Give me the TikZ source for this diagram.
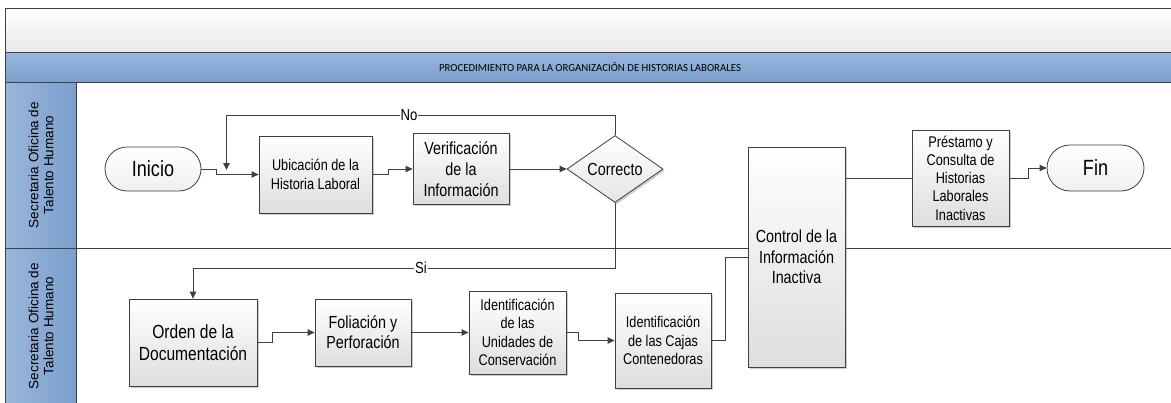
\documentclass[tikz,border=0pt]{standalone}
\usepackage{fontspec}
\setmainfont{Liberation Sans}
\newfontfamily\narrowfont[FakeStretch=0.82]{Liberation Sans}
\newfontfamily\hdrfont{Carlito}
\usetikzlibrary{shapes.geometric,shapes.misc,shadows,arrows.meta}
\definecolor{linec}{HTML}{404040}
\definecolor{bluetop}{HTML}{9AB7DC}
\definecolor{bluebot}{HTML}{7B9ECC}
\newcommand\boxfont[2]{\narrowfont\fontsize{#1}{#2}\selectfont}
\begin{document}
\begin{tikzpicture}[x=1pt,y=-1pt,
  box/.style={draw=linec, line width=0.8pt, top color=white, bottom color=black!13,
    drop shadow={shadow xshift=1.8pt,shadow yshift=-1.8pt,fill=black!40},
    inner sep=0pt, align=center},
  pill/.style={rounded rectangle, draw=linec, line width=0.8pt, top color=white, bottom color=black!6,
    inner sep=0pt, align=center},
  dia/.style={diamond, aspect=1.45, draw=linec, line width=0.8pt, top color=white, bottom color=black!10,
    drop shadow={shadow xshift=1.8pt,shadow yshift=-1.8pt,fill=black!40},
    inner sep=0pt, align=center},
  flow/.style={draw=linec, line width=0.9pt, -{Triangle[length=7pt,width=6.5pt]}},
  plain/.style={draw=linec, line width=0.9pt},
  lbl/.style={fill=white, inner sep=1pt, font={\boxfont{16}{18}}},
  lane/.style={draw=linec, line width=0.8pt, left color=bluetop, right color=bluebot},
  lanetxt/.style={rotate=90, align=center, font={\fontsize{13.5}{15}\selectfont}}
]
\useasboundingbox (0,0) rectangle (1171,402);
% frame and bands
\path[draw=linec, line width=0.8pt, top color=white, bottom color=black!9] (5,8) rectangle (1175,52);
\path[draw=linec, line width=0.8pt, top color=bluetop, bottom color=bluebot] (5,52) rectangle (1175,82);
\node[font={\hdrfont\fontsize{10.8}{12}\selectfont}] (title) at (590,67) {PROCEDIMIENTO PARA LA ORGANIZACIÓN DE HISTORIAS LABORALES};
\path[lane] (5,82) rectangle (76.5,248);
\path[lane] (5,248) rectangle (76.5,406);
\node[lanetxt] (lane1) at (41,165) {Secretaria Oficina de\\Talento Humano};
\node[lanetxt] (lane2) at (41,326) {Secretaria Oficina de\\Talento Humano};
\draw[linec, line width=0.8pt] (76.5,248) -- (1175,248);

% nodes
\node[pill, minimum width=96pt, minimum height=44pt, font={\boxfont{22}{24}}] (inicio) at (153,169) {Inicio};
\node[box, minimum width=113pt, minimum height=77pt, font={\boxfont{15.5}{18.3}}] (ubic) at (315.5,174.5) {Ubicación de la\\Historia Laboral};
\node[box, minimum width=96pt, minimum height=71pt, font={\boxfont{17.5}{21}}] (verif) at (461,169) {Verificación\\de la\\Información};
\node[dia, minimum width=96pt, minimum height=67pt, font={\boxfont{17.5}{19}}] (corr) at (615,169) {Correcto};
\node[box, minimum width=97pt, minimum height=220pt, font={\boxfont{17.5}{20.7}}] (control) at (796.5,257) {Control de la\\Información\\Inactiva};
\node[box, minimum width=97pt, minimum height=96pt, font={\boxfont{15.5}{18.3}}] (prest) at (960.5,178) {Préstamo y\\Consulta de\\Historias\\Laborales\\Inactivas};
\node[pill, minimum width=97pt, minimum height=46pt, font={\boxfont{22}{24}}] (fin) at (1095.5,168) {Fin};
\node[box, minimum width=128pt, minimum height=87pt, font={\boxfont{19}{21.7}}] (orden) at (193,342.5) {Orden de la\\Documentación};
\node[box, minimum width=96pt, minimum height=67pt, font={\boxfont{17.5}{20}}] (foli) at (363,332.5) {Foliación y\\Perforación};
\node[box, minimum width=97pt, minimum height=83pt, font={\boxfont{15.5}{18.3}}] (unid) at (517.5,332.5) {Identificación\\de las\\Unidades de\\Conservación};
\node[box, minimum width=96pt, minimum height=95pt, font={\boxfont{15.5}{18.3}}] (cajas) at (663,340.5) {Identificación\\de las Cajas\\Contenedoras};

% helper coordinates
\coordinate (nor) at (615,115);
\coordinate (nol) at (226.5,115);
\coordinate (notip) at (226.5,170);
\coordinate (sir) at (615,268);
\coordinate (sil) at (193,268);

% connectors
\draw[flow] (inicio.east) -- ++(15,0) |- (ubic.west);
\draw[flow] (ubic.east) -- ++(16,0) |- (verif.west);
\draw[flow] (verif.east) -- (corr.west);
\draw[flow] (corr.north) -- (nor) -- node[lbl, pos=0.53] {No} (nol) -- (notip);
\draw[flow] (corr.south) -- (sir) -- node[lbl, pos=0.46] {Si} (sil) -- (orden.north);
\draw[flow] (orden.east) -- ++(15,0) |- (foli.west);
\draw[flow] (foli.east) -- (unid.west);
\draw[flow] (unid.east) -- ++(12,0) |- (cajas.west);
\draw[plain] (cajas.east) -- ++(14,0) |- (control.west);
\draw[plain] (control.east |- prest.west) -- (prest.west);
\draw[flow] (prest.east) -- ++(19,0) |- (fin.west);
\end{tikzpicture}
\end{document}
